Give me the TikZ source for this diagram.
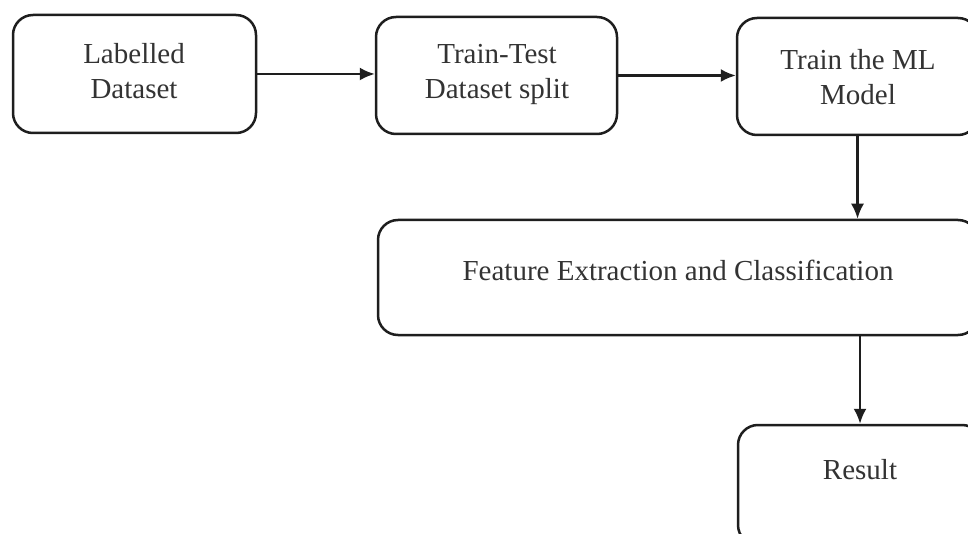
\documentclass[tikz,border=0pt]{standalone}
\usepackage{fontspec}
\setmainfont{Liberation Serif}
\usetikzlibrary{arrows.meta}
\definecolor{ink}{HTML}{1E1E1E}
\definecolor{txt}{HTML}{333333}
\tikzset{
  box/.style={draw=ink, line width=2.5pt, rounded corners=20pt, fill=white, inner sep=0pt},
  lbl/.style={text=txt, align=center, font=\fontsize{29}{35}\selectfont, inner sep=0pt},
  conn/.style={draw=ink, line width=2.2pt, -{Latex[length=15pt,width=13pt]}}
}
\begin{document}
\begin{tikzpicture}[x=1pt,y=-1pt]
\useasboundingbox (0,0) rectangle (968,534);
\fill[white] (0,0) rectangle (968,534);
\begin{scope}
\clip (0,0) rectangle (968,534);
\node[box, minimum width=243pt, minimum height=118pt] (b1) at (134.5,74) {};
\node[box, minimum width=241pt, minimum height=117pt] (b2) at (496.5,75.5) {};
\node[box, minimum width=241pt, minimum height=117pt] (b3) at (857.5,76.5) {};
\node[box, minimum width=600pt, minimum height=115pt] (b4) at (678,277.5) {};
\node[box, minimum width=244pt, minimum height=120pt] (b5) at (860,485) {};
\node[lbl] (t1) at (134,71) {Labelled\\Dataset};
\node[lbl] (t2) at (497,74.5) {Train-Test\\Dataset split};
\node[lbl] (t3) at (858,77) {Train the ML\\Model};
\node[lbl] (t4) at (678,270) {Feature Extraction and Classification};
\node[lbl] (t5) at (860,470) {Result};
\draw[conn] (b1.east) -- (b1.east -| b2.west);
\draw[conn] (b2.east) -- (b2.east -| b3.west);
\draw[conn] (b3.south) -- (b3.south |- b4.north);
\draw[conn] (b5.north |- b4.south) -- (b5.north);
\end{scope}
\end{tikzpicture}
\end{document}
